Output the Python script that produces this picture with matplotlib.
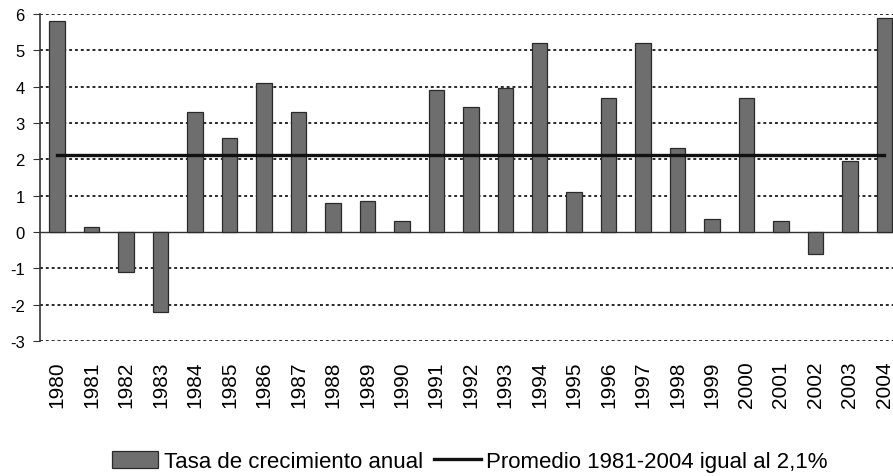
import numpy as np
import matplotlib
matplotlib.use("Agg")
import matplotlib.pyplot as plt

plt.rcParams["font.family"] = ["Liberation Sans", "DejaVu Sans"]

# data
years = [str(y) for y in range(1980, 2005)]
tasa = [5.8, 0.15, -1.1, -2.2, 3.3, 2.6, 4.1, 3.3, 0.8, 0.85, 0.3, 3.9, 3.45,
        3.95, 5.2, 1.1, 3.7, 5.2, 2.3, 0.35, 3.7, 0.3, -0.6, 1.95, 5.9]
promedio = 2.13
yticks = list(range(-3, 7))

fig = plt.figure(figsize=(8.93, 4.77), dpi=100)
ax = fig.add_axes([40 / 893, 135 / 477, 1 - 40 / 893, (342 - 15) / 477])

x = np.arange(len(years))
bars = ax.bar(x, tasa, width=0.45, color="#6e6e6e", edgecolor="#2a2a2a", linewidth=0.9,
              zorder=3, label="Tasa de crecimiento anual")
line, = ax.plot([x[0], x[-1]], [promedio, promedio], color="#111111", linewidth=2.4,
                zorder=4, label="Promedio 1981-2004 igual al 2,1%")

ax.set_xlim(-0.5, len(years) - 0.75)
ax.set_ylim(-3, 6)
ax.set_yticks(yticks)
ax.set_yticklabels([str(t) for t in yticks], fontsize=12)
ax.set_xticks(x)
ax.set_xticklabels(years, rotation=90, fontsize=15)

# dotted gridlines
for t in yticks:
    if t != 0:
        ax.axhline(t, color="#2a2a2a", linestyle=(0, (1.5, 1.5)), linewidth=1.4, zorder=1)
ax.axhline(0, color="#333333", linewidth=1.0, zorder=2)

for s in ["top", "right", "bottom"]:
    ax.spines[s].set_visible(False)
ax.spines["left"].set_color("#333333")
ax.spines["left"].set_linewidth(1.2)
ax.tick_params(axis="x", length=0, pad=14)
ax.tick_params(axis="y", length=5, color="#333333", pad=6)

fig.legend(handles=[bars, line], loc="center", bbox_to_anchor=(0.526, 0.03), ncol=2,
           frameon=False, fontsize=16, handlelength=2.1, handleheight=0.8,
           handletextpad=0.25, columnspacing=0.5)

fig.savefig("out.png", dpi=100)
